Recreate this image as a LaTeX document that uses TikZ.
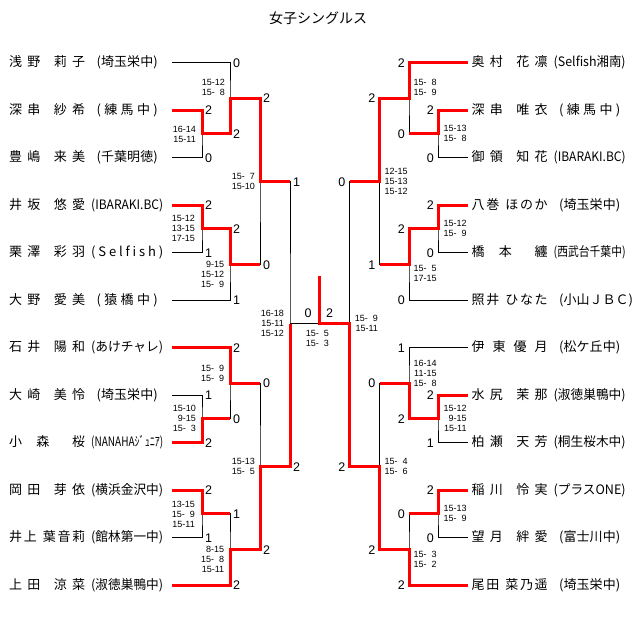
\documentclass[tikz,border=0pt]{standalone}
\usepackage{fontspec}
\setmainfont{Liberation Sans}
\newfontfamily\jp{Noto Sans CJK JP}
\usepackage{graphicx}
\makeatletter
\def\dist#1{\dist@a#1\dist@end}
\def\dist@a#1{#1\dist@b}
\def\dist@b#1{\ifx\dist@end#1\else\hfil#1\expandafter\dist@b\fi}
\def\dist@end{\dist@end@}
\makeatother
\newcommand\zz{\phantom{1}}
\newcommand\nmbox[2]{\makebox[76pt][s]{\dist{#1}}\hspace{6pt}#2}
\newcommand\affs[1]{\makebox[72pt][c]{\makebox[61pt][s]{\dist{#1}}}}
\newcommand\affw[1]{\makebox[72pt][s]{\dist{#1}}}
\newcommand\affc[1]{\resizebox{72pt}{\height}{#1}}
\begin{document}
\begin{tikzpicture}[x=1pt,y=-1pt,
  wire/.style={black,line width=1pt},
  win/.style={red,line width=3pt},
  player/.style={inner sep=0pt,anchor=west,font=\jp\fontsize{13}{15}\selectfont},
  bigsc/.style={inner sep=0pt,text depth=0pt,font=\fontsize{12.5}{14}\selectfont},
  games/.style={inner sep=0pt,align=right,font=\fontsize{9}{10}\selectfont},
]
\path[fill=white] (0,0) rectangle (640,637);
\useasboundingbox (0,0) rectangle (640,637);

\node[font=\jp\fontsize{14}{16}\selectfont] (title) at (318,18) {女子シングルス};

% left players
\node[player] (L1) at (9,62.5) {\nmbox{浅野~莉子}{\affs{(埼玉栄中)}}};
\node[player] (L2) at (9,110) {\nmbox{深串~紗希}{\affs{(練馬中)}}};
\node[player] (L3) at (9,157.5) {\nmbox{豊嶋~来美}{\affs{(千葉明徳)}}};
\node[player] (L4) at (9,205) {\nmbox{井坂~悠愛}{\affc{(IBARAKI.BC)}}};
\node[player] (L5) at (9,252.5) {\nmbox{栗澤~彩羽}{\affw{(Selfish)}}};
\node[player] (L6) at (9,300) {\nmbox{大野~愛美}{\affs{(猿橋中)}}};
\node[player] (L7) at (9,347.5) {\nmbox{石井~陽和}{\affc{(あけチャレ)}}};
\node[player] (L8) at (9,395) {\nmbox{大崎~美怜}{\affs{(埼玉栄中)}}};
\node[player] (L9) at (9,442.5) {\nmbox{小~森~~桜}{\affc{(NANAHAｼﾞｭﾆｱ)}}};
\node[player] (L10) at (9,490) {\nmbox{岡田~芽依}{\affc{(横浜金沢中)}}};
\node[player] (L11) at (9,537.5) {\nmbox{井上~葉音莉}{\affc{(館林第一中)}}};
\node[player] (L12) at (9,585) {\nmbox{上田~涼菜}{\affc{(淑徳巣鴨中)}}};

% right players
\node[player] (R1) at (471.5,62.5) {\nmbox{奥村~花凛}{\affc{(Selfish湘南)}}};
\node[player] (R2) at (471.5,110) {\nmbox{深串~唯衣}{\affs{(練馬中)}}};
\node[player] (R3) at (471.5,157.5) {\nmbox{御領~知花}{\affc{(IBARAKI.BC)}}};
\node[player] (R4) at (471.5,205) {\nmbox{八巻~ほのか}{\affs{(埼玉栄中)}}};
\node[player] (R5) at (471.5,252.5) {\nmbox{橋~本~~纏}{\affc{(西武台千葉中)}}};
\node[player] (R6) at (471.5,300) {\nmbox{照井~ひなた}{\affs{(小山ＪＢＣ)}}};
\node[player] (R7) at (471.5,347.5) {\nmbox{伊東優月}{\affs{(松ケ丘中)}}};
\node[player] (R8) at (471.5,395) {\nmbox{水尻~茉那}{\affc{(淑徳巣鴨中)}}};
\node[player] (R9) at (471.5,442.5) {\nmbox{柏瀬~天芳}{\affc{(桐生桜木中)}}};
\node[player] (R10) at (471.5,490) {\nmbox{稲川~怜実}{\affc{(プラスONE)}}};
\node[player] (R11) at (471.5,537.5) {\nmbox{望月~絆愛}{\affs{(富士川中)}}};
\node[player] (R12) at (471.5,585) {\nmbox{尾田~菜乃遥}{\affs{(埼玉栄中)}}};

% line ends next to players
\foreach \i in {1,...,12} {
  \coordinate (p\i) at ([xshift=9pt]L\i.east |- L\i.west);
  \coordinate (q\i) at ([xshift=-3.5pt]R\i.west);
}
% left junctions
\coordinate (jA1) at (202,133.75);
\coordinate (jB1) at (230,98.125);
\coordinate (jA2) at (202,228.75);
\coordinate (jB2) at (230,264.375);
\coordinate (jC1) at (260,181.25);
\coordinate (jA3) at (202,418.75);
\coordinate (jB3) at (230,383.125);
\coordinate (jA4) at (202,513.75);
\coordinate (jB4) at (230,549.375);
\coordinate (jC2) at (260,466.25);
\coordinate (jD) at (290,323.75);
% right junctions
\coordinate (kA1) at (438,133.75);
\coordinate (kB1) at (409,98.125);
\coordinate (kA2) at (438,228.75);
\coordinate (kB2) at (409,264.375);
\coordinate (kC1) at (379.5,181.25);
\coordinate (kA3) at (438,418.75);
\coordinate (kB3) at (409,383.125);
\coordinate (kA4) at (438,513.75);
\coordinate (kB4) at (409,549.375);
\coordinate (kC2) at (379.5,466.25);
\coordinate (kD) at (349.5,323.75);
% final
\coordinate (jF) at (319.5,323.75);
\coordinate (jT) at (319.5,276);

% black bracket, left
\draw[wire] (p2) -| (jA1) |- (p3);
\draw[wire] (p1) -| (jB1) |- (jA1);
\draw[wire] (p4) -| (jA2) |- (p5);
\draw[wire] (jA2) -| (jB2) |- (p6);
\draw[wire] (jB1) -| (jC1) |- (jB2);
\draw[wire] (p8) -| (jA3) |- (p9);
\draw[wire] (p7) -| (jB3) |- (jA3);
\draw[wire] (p10) -| (jA4) |- (p11);
\draw[wire] (jA4) -| (jB4) |- (p12);
\draw[wire] (jB3) -| (jC2) |- (jB4);
\draw[wire] (jC1) -| (jD) |- (jC2);
% black bracket, right
\draw[wire] (q2) -| (kA1) |- (q3);
\draw[wire] (q1) -| (kB1) |- (kA1);
\draw[wire] (q4) -| (kA2) |- (q5);
\draw[wire] (kA2) -| (kB2) |- (q6);
\draw[wire] (kB1) -| (kC1) |- (kB2);
\draw[wire] (q8) -| (kA3) |- (q9);
\draw[wire] (q7) -| (kB3) |- (kA3);
\draw[wire] (q10) -| (kA4) |- (q11);
\draw[wire] (kA4) -| (kB4) |- (q12);
\draw[wire] (kB3) -| (kC2) |- (kB4);
\draw[wire] (kC1) -| (kD) |- (kC2);
\draw[wire] (jD) -- (kD);

% winners, left
\draw[win] (p2) -| (jA1) -- (jA1 -| jB1) -- (jB1) -- (jB1 -| jC1) -- (jC1) -- (jC1 -| jD);
\draw[win] (p4) -| (jA2) -- (jA2 -| jB2) -- (jB2) -- (jB2 -| jC1);
\draw[win] (p7) -| (jB3) -- (jB3 -| jC2);
\draw[win] (p9) -| (jA3) -- (jA3 -| jB3);
\draw[win] (p10) -| (jA4) -- (jA4 -| jB4);
\draw[win] (p12) -| (jB4) -- (jB4 -| jC2) -- (jC2) -- (jC2 -| jD) -- (jD);
% winners, right
\draw[win] (q1) -| (kB1) -- (kB1 -| kC1) -- (kC1) -- (kC1 -| kD);
\draw[win] (q2) -| (kA1) -- (kA1 -| kB1);
\draw[win] (q4) -| (kA2) -- (kA2 -| kB2) -- (kB2) -- (kB2 -| kC1);
\draw[win] (q8) -| (kA3) -- (kA3 -| kB3) -- (kB3) -- (kB3 -| kC2);
\draw[win] (q10) -| (kA4) -- (kA4 -| kB4);
\draw[win] (q12) -| (kB4) -- (kB4 -| kC2) -- (kC2) -- (kC2 -| kD) -- (kD) -- (jF) -- (jT);

% set scores, left
\foreach \x/\y/\t [count=\i] in {230/62.5/0,202/110/2,202/157.5/0,230/133.75/2,260/98.125/2,
  202/205/2,202/252.5/1,230/228.75/2,230/300/1,260/264.375/0,290/181.25/1,
  230/347.5/2,260/383.125/0,202/395/1,202/442.5/2,230/418.75/0,
  290/466.25/2,202/490/2,230/513.75/1,202/537.5/1,260/549.375/2,230/585/2}
  \node[bigsc,anchor=west] (sl\i) at (\x+3,\y+0.5) {\t};
% set scores, right
\foreach \x/\y/\t [count=\i] in {409/62.5/2,438/110/2,438/157.5/0,409/133.75/0,379.5/98.125/2,
  438/205/2,438/252.5/0,409/228.75/2,409/300/0,379.5/264.375/1,349.5/181.25/0,
  409/347.5/1,379.5/383.125/0,438/395/2,438/442.5/1,409/418.75/2,
  349.5/466.25/2,438/490/2,409/513.75/0,438/537.5/0,379.5/549.375/2,409/585/2}
  \node[bigsc,anchor=east] (sr\i) at (\x-4,\y+0.5) {\t};
\node[bigsc,anchor=south] (sfl) at (308,318) {0};
\node[bigsc,anchor=south] (sfr) at (329.5,318) {2};

% game scores, left
\node[games,anchor=east] (gl1) at (225,87.7) {15-12\\15-\zz8};
\node[games,anchor=east] (gl2) at (196,134.3) {16-14\\15-11};
\node[games,anchor=east] (gl3) at (255,181) {15-\zz7\\15-10};
\node[games,anchor=east] (gl4) at (195,228.5) {15-12\\13-15\\17-15};
\node[games,anchor=east] (gl5) at (224.3,274.3) {9-15\\15-12\\15-\zz9};
\node[games,anchor=east] (gl6) at (224.3,373.3) {15-\zz9\\15-\zz9};
\node[games,anchor=east] (gl7) at (196,418.7) {15-10\\9-15\\15-\zz3};
\node[games,anchor=east] (gl8) at (255,466) {15-13\\15-\zz5};
\node[games,anchor=east] (gl9) at (195,514.3) {13-15\\15-\zz9\\15-11};
\node[games,anchor=east] (gl10) at (224.3,559.3) {8-15\\15-\zz8\\15-11};
\node[games,anchor=east] (gl11) at (284,323.7) {16-18\\15-11\\15-12};
% game scores, final and right
\node[games,anchor=west] (gf) at (305.7,338.3) {15-\zz5\\15-\zz3};
\node[games,anchor=west] (gr1) at (413.3,87.7) {15-\zz8\\15-\zz9};
\node[games,anchor=west] (gr2) at (443.3,133.7) {15-13\\15-\zz8};
\node[games,anchor=west] (gr3) at (384.3,181) {12-15\\15-13\\15-12};
\node[games,anchor=west] (gr4) at (443.3,228.3) {15-12\\15-\zz9};
\node[games,anchor=west] (gr5) at (413.3,273.3) {15-\zz5\\17-15};
\node[games,anchor=west] (gr6) at (354.7,323.7) {15-\zz9\\15-11};
\node[games,anchor=west] (gr7) at (413.3,373.3) {16-14\\11-15\\15-\zz8};
\node[games,anchor=west] (gr8) at (443.3,418.7) {15-12\\9-15\\15-11};
\node[games,anchor=west] (gr9) at (384.3,466) {15-\zz4\\15-\zz6};
\node[games,anchor=west] (gr10) at (443.3,513.3) {15-13\\15-\zz9};
\node[games,anchor=west] (gr11) at (413.3,559.3) {15-\zz3\\15-\zz2};
\end{tikzpicture}
\end{document}
